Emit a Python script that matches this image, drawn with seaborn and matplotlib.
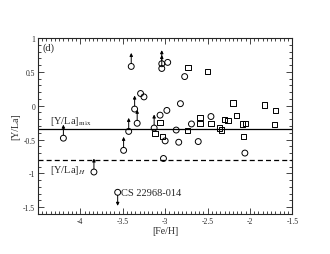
import numpy as np
import pandas as pd
import matplotlib
matplotlib.use("Agg")
import matplotlib.pyplot as plt
import seaborn as sns

# circles: [Fe/H], [Y/La]
circ_fe = [-4.20, -3.84, -3.40, -3.04, -3.04, -2.97, -3.29, -3.25, -3.36, -3.33,
           -3.43, -3.49, -3.13, -3.06, -2.98, -2.82, -2.87, -3.00, -2.84, -2.61,
           -3.02, -2.69, -2.77, -2.46, -2.06, -3.56]
circ_yla = [-0.48, -0.98, 0.58, 0.62, 0.55, 0.64, 0.18, 0.13, -0.05, -0.26,
            -0.38, -0.66, -0.33, -0.14, -0.07, 0.03, -0.36, -0.52, -0.54, -0.53,
            -0.78, -0.27, 0.43, -0.16, -0.70, -1.28]
# limit flag: 1 = lower limit (arrow up), -1 = upper limit (arrow down), 0 = none
circ_lim = [1, 1, 1, 1, 1, 0, 0, 0, 1, 1,
            1, 1, 1, 0, 0, 0, 0, 0, 0, 0,
            0, 0, 0, 0, 0, -1]

# squares
sq_fe = [-3.06, -3.12, -3.03, -2.74, -2.59, -2.59, -2.73, -2.50, -2.20, -1.83,
         -1.70, -2.16, -2.46, -2.30, -2.26, -2.36, -2.34, -2.09, -2.05, -1.71,
         -2.08]
sq_yla = [-0.25, -0.41, -0.46, -0.37, -0.17, -0.26, 0.57, 0.51, 0.04, 0.01,
          -0.07, -0.14, -0.26, -0.21, -0.22, -0.33, -0.36, -0.27, -0.26, -0.28,
          -0.46]

y_mix = -0.35
y_h = -0.80
star_label = "CS 22968-014"

sns.set_style("ticks")
plt.rcParams['font.family'] = ['Liberation Serif', 'DejaVu Serif']
plt.rcParams['axes.unicode_minus'] = False
plt.rcParams['mathtext.fontset'] = 'stix'

fig, ax = plt.subplots(figsize=(3.3, 2.55), dpi=100)
fig.subplots_adjust(left=0.115, right=0.886, top=0.847, bottom=0.157)

circ = pd.DataFrame({"fe": circ_fe, "yla": circ_yla, "lim": circ_lim})
sq = pd.DataFrame({"fe": sq_fe, "yla": sq_yla})

sns.scatterplot(data=circ, x="fe", y="yla", marker="o", s=18, fc="none",
                ec="black", linewidth=0.7, ax=ax, zorder=3)
sns.scatterplot(data=sq, x="fe", y="yla", marker="s", s=14, fc="none",
                ec="black", linewidth=0.7, ax=ax, zorder=3)

for fe, yv, lim in zip(circ_fe, circ_yla, circ_lim):
    if lim == 0:
        continue
    ax.annotate("", xy=(fe, yv + lim * 0.2), xytext=(fe, yv + lim * 0.045),
                arrowprops=dict(arrowstyle="-|>", lw=0.7, color="black",
                                mutation_scale=4.5, shrinkA=0, shrinkB=0))

ax.axhline(y_mix, color="black", lw=0.9)
ax.axhline(y_h, color="black", lw=0.9, ls=(0, (4, 2.5)))

ax.text(-4.45, 0.93, "(d)", fontsize=7.5, va="top", ha="left")
ax.text(-4.36, y_mix + 0.04, r"[Y/La]$_{\rm mix}$", fontsize=7.5, va="bottom", ha="left")
ax.text(-4.36, y_h - 0.05, r"[Y/La]$_{H}$", fontsize=7.5, va="top", ha="left")
ax.text(-3.52, -1.28, star_label, fontsize=7.5, va="center", ha="left")

ax.set_xlim(-4.5, -1.5)
ax.set_ylim(-1.6, 1.0)
ax.set_xticks([-4, -3.5, -3, -2.5, -2, -1.5])
ax.set_xticklabels(["-4", "-3.5", "-3", "-2.5", "-2", "-1.5"])
ax.set_yticks([-1.5, -1, -0.5, 0, 0.5, 1])
ax.set_yticklabels(["-1.5", "-1", "-0.5", "0", "0.5", "1"])
ax.xaxis.set_minor_locator(matplotlib.ticker.MultipleLocator(0.05))
ax.yaxis.set_minor_locator(matplotlib.ticker.MultipleLocator(0.1))
ax.tick_params(which="both", direction="in", top=True, right=True,
               labelsize=5.5, width=0.6, pad=2)
ax.tick_params(which="major", length=4)
ax.tick_params(which="minor", length=2)
for s in ax.spines.values():
    s.set_linewidth(0.8)

ax.set_xlabel("[Fe/H]", fontsize=7, labelpad=1)
ax.set_ylabel("[Y/La]", fontsize=7, labelpad=2)

fig.savefig("out.png", dpi=100)
